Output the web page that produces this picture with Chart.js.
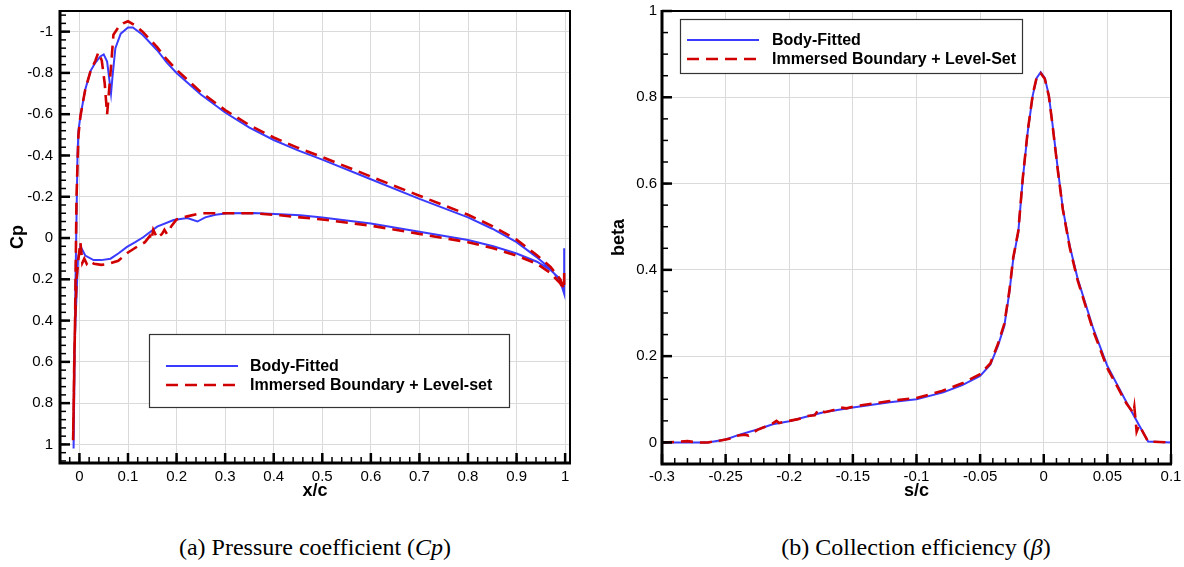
<!DOCTYPE html>
<html><head><meta charset="utf-8">
<script src="https://cdn.jsdelivr.net/npm/chart.js@4.4.0/dist/chart.umd.min.js"></script>
<style>
html,body{margin:0;padding:0;background:#fff;width:1184px;height:567px;overflow:hidden;}
.wrap{position:absolute;top:0;}
.cap{position:absolute;top:532px;line-height:30px;font-family:"Liberation Serif","Times New Roman",serif;font-size:24px;color:#000;white-space:nowrap;transform:translateX(-50%);}
</style></head>
<body>
<div class="wrap" style="left:0;width:590px;height:510px"><canvas id="c1" width="590" height="510"></canvas></div>
<div class="wrap" style="left:590px;width:594px;height:510px"><canvas id="c2" width="594" height="510"></canvas></div>
<div class="cap" style="left:315px">(a) Pressure coefficient (<i>Cp</i>)</div>
<div class="cap" style="left:916px">(b) Collection efficiency (<i>β</i>)</div>
<script>
// ---------- Data: pressure coefficient ----------
const seriesNames = ["Body-Fitted", "Immersed Boundary + Level-set"];
const seriesNamesB = ["Body-Fitted", "Immersed Boundary + Level-Set"];

const cpX_bf = [0.998, 0.998, 0.99, 0.97, 0.94, 0.9, 0.85, 0.8, 0.7, 0.6, 0.5, 0.45, 0.4, 0.35, 0.3, 0.25, 0.2, 0.18, 0.16, 0.13, 0.11, 0.1, 0.085, 0.074, 0.068, 0.065, 0.061, 0.057, 0.05, 0.043, 0.033, 0.023, 0.012, 0.002, -0.002, -0.004, -0.006, -0.008, -0.010, -0.012,
  -0.011, -0.008, -0.003, 0.002, 0.012, 0.029, 0.045, 0.064, 0.08, 0.098, 0.115, 0.132, 0.16, 0.194, 0.222, 0.243, 0.259, 0.28, 0.304, 0.358, 0.413, 0.455, 0.5, 0.6, 0.7, 0.8, 0.852, 0.9, 0.942, 0.97, 0.99, 0.998];
const cpY_bf = [0.05, 0.27, 0.21, 0.15, 0.09, 0.02, -0.045, -0.10, -0.19, -0.285, -0.38, -0.425, -0.475, -0.535, -0.608, -0.695, -0.80, -0.85, -0.91, -0.985, -1.02, -1.02, -0.99, -0.92, -0.78, -0.70, -0.78, -0.855, -0.89, -0.88, -0.85, -0.81, -0.72, -0.59, -0.52, -0.40, -0.10, 0.20, 0.60, 1.02,
  0.60, 0.40, 0.10, 0.04, 0.085, 0.107, 0.107, 0.10, 0.075, 0.043, 0.02, -0.005, -0.055, -0.087, -0.097, -0.08, -0.10, -0.113, -0.12, -0.121, -0.115, -0.11, -0.10, -0.07, -0.03, 0.01, 0.04, 0.075, 0.115, 0.155, 0.20, 0.27];

const cpX_ib = [0.998, 0.998, 0.99, 0.97, 0.94, 0.9, 0.85, 0.8, 0.7, 0.6, 0.5, 0.45, 0.4, 0.35, 0.3, 0.25, 0.2, 0.18, 0.16, 0.13, 0.115, 0.1, 0.09, 0.08, 0.07, 0.064, 0.057, 0.052, 0.046, 0.039, 0.033, 0.023, 0.012, 0.002, -0.002, -0.006, -0.009, -0.013,
  -0.010, -0.006, -0.002, 0.002, 0.006, 0.010, 0.015, 0.020, 0.030, 0.045, 0.060, 0.080, 0.100, 0.120, 0.135, 0.145, 0.148, 0.152, 0.160, 0.170, 0.175, 0.180, 0.190, 0.200, 0.222, 0.25, 0.304, 0.358, 0.413, 0.455, 0.5, 0.6, 0.7, 0.8, 0.852, 0.9, 0.942, 0.97, 0.99, 0.998];
const cpY_ib = [0.17, 0.25, 0.20, 0.14, 0.08, 0.008, -0.058, -0.113, -0.205, -0.298, -0.392, -0.437, -0.487, -0.547, -0.62, -0.707, -0.815, -0.865, -0.925, -1.00, -1.03, -1.05, -1.04, -1.02, -0.985, -0.80, -0.60, -0.75, -0.86, -0.90, -0.86, -0.81, -0.72, -0.59, -0.50, -0.20, 0.40, 0.98,
  0.50, 0.20, 0.10, 0.02, 0.12, 0.10, 0.125, 0.11, 0.125, 0.13, 0.125, 0.11, 0.07, 0.04, 0.02, -0.01, 0.01, -0.04, 0.00, -0.02, -0.04, -0.02, -0.06, -0.09, -0.105, -0.12, -0.12, -0.12, -0.11, -0.10, -0.09, -0.06, -0.02, 0.02, 0.05, 0.085, 0.125, 0.17, 0.22, 0.25];

const cpXTicks = [0, 0.1, 0.2, 0.3, 0.4, 0.5, 0.6, 0.7, 0.8, 0.9, 1];
const cpYTicks = [-1, -0.8, -0.6, -0.4, -0.2, 0, 0.2, 0.4, 0.6, 0.8, 1];

// ---------- Data: collection efficiency ----------
const s_bf = [-0.3, -0.264, -0.25, -0.239, -0.225, -0.213, -0.2, -0.186, -0.173, -0.15, -0.121, -0.1, -0.079, -0.064, -0.05, -0.042, -0.036, -0.031, -0.027, -0.024, -0.02, -0.0165, -0.0126, -0.0086, -0.0055, -0.0024, 0.0008, 0.004, 0.007, 0.011, 0.015, 0.0204, 0.0267, 0.039, 0.05, 0.065, 0.082, 0.1];
const beta_bf = [0, 0, 0.007, 0.018, 0.03, 0.042, 0.049, 0.06, 0.07, 0.081, 0.093, 0.1, 0.116, 0.133, 0.154, 0.18, 0.224, 0.27, 0.348, 0.425, 0.488, 0.61, 0.72, 0.805, 0.845, 0.858, 0.845, 0.805, 0.735, 0.635, 0.542, 0.456, 0.379, 0.263, 0.177, 0.093, 0.002, 0];

const s_ib = [-0.3, -0.29, -0.28, -0.275, -0.27, -0.264, -0.255, -0.25, -0.245, -0.24, -0.235, -0.232, -0.225, -0.22, -0.213, -0.21, -0.208, -0.2, -0.193, -0.186, -0.18, -0.177, -0.176, -0.172, -0.165, -0.16, -0.155, -0.15, -0.13, -0.121, -0.1, -0.08, -0.064, -0.05, -0.042, -0.036, -0.031, -0.027, -0.024, -0.02, -0.0165, -0.0126, -0.0086, -0.0055, -0.0024, 0.0008, 0.004, 0.007, 0.011, 0.015, 0.0204, 0.0267, 0.039, 0.05, 0.065, 0.068, 0.0705, 0.0712, 0.073, 0.075, 0.082, 0.1];
const beta_ib = [0, 0.001, 0.003, 0.001, 0, 0, 0.004, 0.007, 0.01, 0.016, 0.018, 0.016, 0.029, 0.035, 0.044, 0.05, 0.045, 0.05, 0.054, 0.061, 0.063, 0.076, 0.074, 0.07, 0.075, 0.081, 0.079, 0.083, 0.092, 0.096, 0.103, 0.119, 0.137, 0.158, 0.183, 0.228, 0.275, 0.352, 0.428, 0.49, 0.612, 0.722, 0.807, 0.847, 0.856, 0.843, 0.803, 0.733, 0.632, 0.54, 0.452, 0.375, 0.258, 0.172, 0.09, 0.078, 0.068, 0.082, 0.025, 0.04, 0.002, 0];

const sTicks = [-0.3, -0.25, -0.2, -0.15, -0.1, -0.05, 0, 0.05, 0.1];
const betaTicks = [0, 0.2, 0.4, 0.6, 0.8, 1];

// ---------- Styling ----------
const BLUE = '#3b3bff';
const RED = '#d10000';
const SANS = '"Liberation Sans", Arial, Helvetica, sans-serif';

const pts = (xs, ys) => xs.map((x, i) => ({x: x, y: ys[i]}));
const fmt = v => String(+(+v).toFixed(3));

const framePlugin = {
  id: 'frameTicks',
  afterDraw(chart, args, o) {
    const {ctx, chartArea: a} = chart;
    const x = chart.scales.x, y = chart.scales.y;
    ctx.save();
    ctx.strokeStyle = '#000';
    const tickX = (v, len, w) => {
      const p = x.getPixelForValue(v);
      ctx.lineWidth = w; ctx.beginPath(); ctx.moveTo(p, a.bottom); ctx.lineTo(p, a.bottom - len); ctx.stroke();
    };
    const tickY = (v, len, w) => {
      const p = y.getPixelForValue(v);
      ctx.lineWidth = w; ctx.beginPath(); ctx.moveTo(a.left, p); ctx.lineTo(a.left + len, p); ctx.stroke();
    };
    const loop = (min, max, step, fn) => {
      const i0 = Math.ceil(min / step - 1e-6), i1 = Math.floor(max / step + 1e-6);
      for (let i = i0; i <= i1; i++) fn(i * step);
    };
    loop(x.min, x.max, o.xMinor, v => tickX(v, 6, 1.5));
    loop(y.min, y.max, o.yMinor, v => tickY(v, 6, 1.5));
    x.ticks.forEach(t => tickX(t.value, 10, 2.5));
    y.ticks.forEach(t => tickY(t.value, 10, 2.5));
    // frame
    ctx.lineWidth = 2;
    ctx.strokeRect(a.left, a.top, a.width, a.height);
    ctx.lineWidth = 3;
    ctx.beginPath(); ctx.moveTo(a.left, a.top - 1); ctx.lineTo(a.left, a.bottom); ctx.lineTo(a.right + 1, a.bottom); ctx.stroke();
    // legend
    const L = o.legend;
    ctx.fillStyle = '#fff';
    ctx.fillRect(L.x, L.y, L.w, L.h);
    ctx.strokeStyle = '#333'; ctx.lineWidth = 1.2;
    ctx.strokeRect(L.x + 0.5, L.y + 0.5, L.w, L.h);
    ctx.font = 'bold 16px ' + SANS;
    ctx.textBaseline = 'middle'; ctx.textAlign = 'left';
    chart.data.datasets.forEach((ds, i) => {
      const yy = L.rows[i];
      ctx.strokeStyle = ds.borderColor; ctx.lineWidth = ds.borderWidth;
      ctx.setLineDash(ds.borderDash || []);
      ctx.beginPath(); ctx.moveTo(L.x1, yy); ctx.lineTo(L.x2, yy); ctx.stroke();
      ctx.setLineDash([]);
      ctx.fillStyle = '#000';
      ctx.fillText(ds.label, L.tx, yy + 1);
    });
    ctx.restore();
  }
};

function makeChart(id, cfg) {
  return new Chart(document.getElementById(id), {
    type: 'scatter',
    data: {
      datasets: [
        {label: cfg.names[0], data: pts(cfg.x1, cfg.y1), showLine: true, borderColor: BLUE, borderWidth: 2, pointRadius: 0, order: 1, tension: 0},
        {label: cfg.names[1], data: pts(cfg.x2, cfg.y2), showLine: true, borderColor: RED, borderWidth: 2.6, borderDash: [12, 7], pointRadius: 0, order: 0, tension: 0}
      ]
    },
    options: {
      responsive: false, animation: false, devicePixelRatio: 1,
      layout: {padding: cfg.pad},
      plugins: {legend: {display: false}, tooltip: {enabled: false}, frameTicks: cfg.frame},
      scales: {
        x: {
          type: 'linear', min: cfg.xMin, max: cfg.xMax,
          afterBuildTicks: s => { s.ticks = cfg.xTicks.map(v => ({value: v})); },
          afterFit: s => { s.height = cfg.xH; s.paddingLeft = 0; s.paddingRight = 0; },
          grid: {color: '#dadada', lineWidth: 1, drawTicks: false},
          border: {display: false},
          ticks: {font: {family: SANS, size: 15}, color: '#000', padding: cfg.xPad, maxRotation: 0, autoSkip: false, callback: fmt},
          title: {display: true, text: cfg.xTitle, color: '#000', font: {family: SANS, size: 18, weight: 'bold'}, padding: {top: 0, bottom: 8}}
        },
        y: {
          type: 'linear', min: cfg.yMin, max: cfg.yMax, reverse: cfg.reverse,
          afterBuildTicks: s => { s.ticks = cfg.yTicks.map(v => ({value: v})); },
          afterFit: s => { s.width = cfg.yW; s.paddingTop = 0; s.paddingBottom = 0; },
          grid: {color: '#dadada', lineWidth: 1, drawTicks: false},
          border: {display: false},
          ticks: {font: {family: SANS, size: 15}, color: '#000', padding: cfg.yPad, autoSkip: false, callback: fmt},
          title: {display: true, text: cfg.yTitle, color: '#000', font: {family: SANS, size: 18, weight: 'bold'}, padding: {top: cfg.yTitlePad, bottom: 0}}
        }
      }
    },
    plugins: [framePlugin]
  });
}

makeChart('c1', {
  names: seriesNames, x1: cpX_bf, y1: cpY_bf, x2: cpX_ib, y2: cpY_ib,
  xMin: -0.04, xMax: 1.01, yMin: -1.1, yMax: 1.09, reverse: true,
  xTicks: cpXTicks, yTicks: cpYTicks,
  pad: {left: 0, top: 11, right: 20, bottom: 0}, xH: 47, yW: 60, xPad: 5, yPad: 7,
  xTitle: 'x/c', yTitle: 'Cp', yTitlePad: 7,
  frame: {xMinor: 0.02, yMinor: 0.04,
    legend: {x: 149, y: 334, w: 360, h: 73, x1: 166, x2: 238, rows: [366, 385], tx: 250}}
});

makeChart('c2', {
  names: seriesNamesB, x1: s_bf, y1: beta_bf, x2: s_ib, y2: beta_ib,
  xMin: -0.3, xMax: 0.1, yMin: -0.05, yMax: 1, reverse: false,
  xTicks: sTicks, yTicks: betaTicks,
  pad: {left: 0, top: 11, right: 13, bottom: 0}, xH: 46, yW: 72, xPad: 4, yPad: 5,
  xTitle: 's/c', yTitle: 'beta', yTitlePad: 18,
  frame: {xMinor: 0.01, yMinor: 0.05,
    legend: {x: 90, y: 19, w: 342, h: 54, x1: 97, x2: 169, rows: [40, 59], tx: 182}}
});
</script>
</body></html>
